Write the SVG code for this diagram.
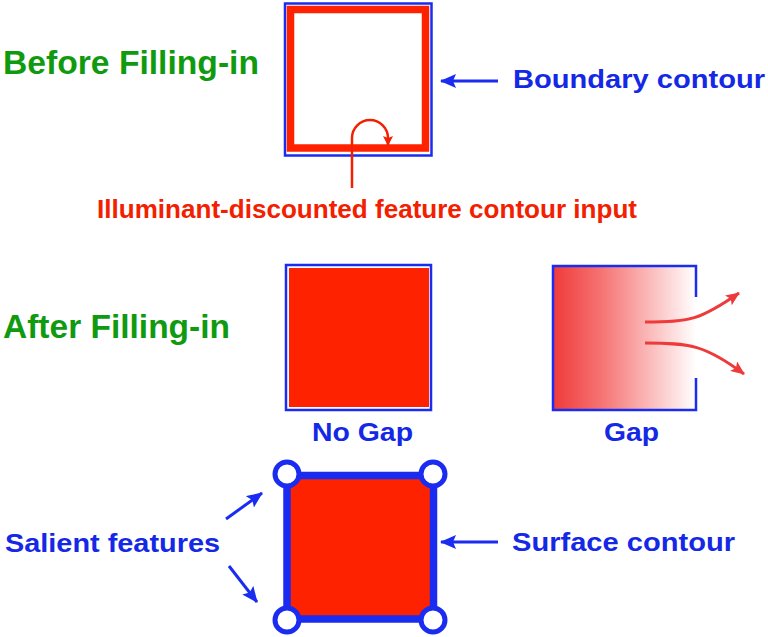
<svg xmlns="http://www.w3.org/2000/svg" width="768" height="637" viewBox="0 0 768 637">
<style>
text{font-family:"Liberation Sans",Arial,sans-serif;font-weight:bold}
.g{fill:#109a10;font-size:33px}
.b{fill:#1428e6;font-size:26px}
.r{fill:#f22000;font-size:26px}
.bl{stroke:#1a2cf0;fill:none}
.ba{stroke:#1a2cf0;stroke-width:3;fill:none}
.ra{stroke:#ee3a3a;stroke-width:3;fill:none}
</style>
<defs>
<marker id="bh" markerWidth="16" markerHeight="14" refX="15" refY="7" orient="auto" markerUnits="userSpaceOnUse"><path d="M0,0 L16,7 L0,14 L3,7 Z" fill="#1a2cf0"/></marker>
<marker id="rh" markerWidth="14" markerHeight="12" refX="13" refY="6" orient="auto" markerUnits="userSpaceOnUse"><path d="M0,0 L14,6 L0,12 L3,6 Z" fill="#ee3a3a"/></marker>
<marker id="rh2" markerWidth="10" markerHeight="10" refX="9" refY="5" orient="auto" markerUnits="userSpaceOnUse"><path d="M0,0 L10,5 L0,10 L2,5 Z" fill="#f22000"/></marker>
<linearGradient id="fade" x1="0" y1="0" x2="1" y2="0">
<stop offset="0" stop-color="#f03a3a"/>
<stop offset="0.35" stop-color="#f67575"/>
<stop offset="1" stop-color="#ffffff"/>
</linearGradient>
</defs>

<text class="g" x="3" y="74" textLength="256" lengthAdjust="spacingAndGlyphs">Before Filling-in</text>
<text class="g" x="3" y="338" textLength="227" lengthAdjust="spacingAndGlyphs">After Filling-in</text>

<g id="before-box">
<rect x="285" y="3.5" width="146.5" height="152" class="bl" stroke-width="2.5"/>
<rect x="290.5" y="9.5" width="135" height="138.5" fill="none" stroke="#ff2200" stroke-width="7.5"/>
</g>

<g id="nogap-box">
<rect x="286" y="265" width="145" height="145" class="bl" stroke-width="2.5"/>
<rect x="289" y="268" width="140" height="139" fill="#ff2200"/>
</g>

<g id="gap-box">
<rect x="553" y="266" width="143" height="144" fill="url(#fade)"/>
<path d="M696,297 V266 H553 V410 H696 V378" class="bl" stroke-width="2.5"/>
</g>

<g id="surface-box">
<rect x="287" y="475.5" width="146.5" height="143.5" fill="#ff2200" stroke="#1a2cf0" stroke-width="7.5"/>
<circle cx="287" cy="474" r="12" fill="#fff" stroke="#1a2cf0" stroke-width="5"/>
<circle cx="433" cy="474" r="12" fill="#fff" stroke="#1a2cf0" stroke-width="5"/>
<circle cx="287" cy="620" r="12" fill="#fff" stroke="#1a2cf0" stroke-width="5"/>
<circle cx="433" cy="620" r="12" fill="#fff" stroke="#1a2cf0" stroke-width="5"/>
</g>

<g id="labels">
<text class="b" x="513" y="88" textLength="252" lengthAdjust="spacingAndGlyphs">Boundary contour</text>
<text class="r" x="97" y="218" textLength="540" lengthAdjust="spacingAndGlyphs">Illuminant-discounted feature contour input</text>
<text class="b" x="312" y="441" textLength="101" lengthAdjust="spacingAndGlyphs">No Gap</text>
<text class="b" x="604" y="441" textLength="55" lengthAdjust="spacingAndGlyphs">Gap</text>
<text class="b" x="512" y="551" textLength="223" lengthAdjust="spacingAndGlyphs">Surface contour</text>
<text class="b" x="5" y="552" textLength="215" lengthAdjust="spacingAndGlyphs">Salient features</text>
</g>

<g id="connectors">
<line x1="498" y1="81" x2="441" y2="81" class="ba" marker-end="url(#bh)"/>
<line x1="498" y1="542" x2="441" y2="542" class="ba" marker-end="url(#bh)"/>
<line x1="226" y1="519" x2="262" y2="493" class="ba" marker-end="url(#bh)"/>
<line x1="229" y1="566" x2="257" y2="602" class="ba" marker-end="url(#bh)"/>
<path d="M352,188 V138 A18,18 0 0 1 388,138 V145" fill="none" stroke="#f22000" stroke-width="2.5" marker-end="url(#rh2)"/>
<path d="M645,322 C690,322 700,320 739,293" class="ra" marker-end="url(#rh)"/>
<path d="M645,343 C690,343 705,345 744,374" class="ra" marker-end="url(#rh)"/>
</g>
</svg>
